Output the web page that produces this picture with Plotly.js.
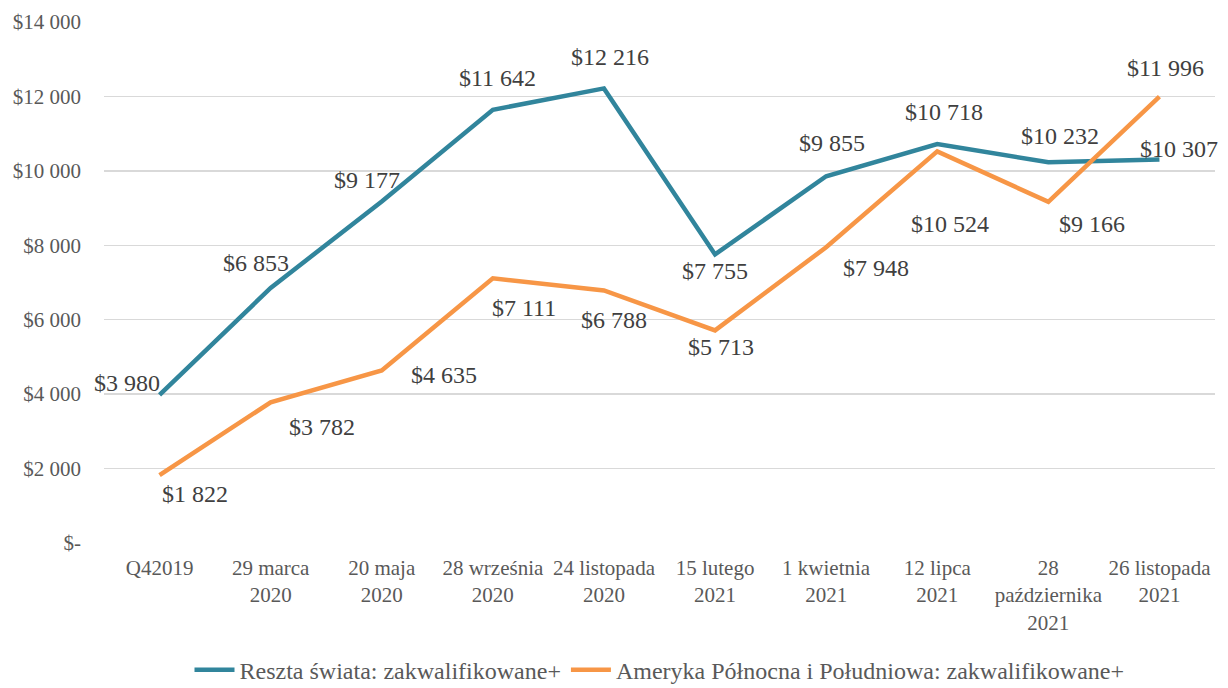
<!DOCTYPE html>
<html>
<head>
<meta charset="utf-8">
<script src="https://cdn.plot.ly/plotly-3.0.1.min.js"></script>
<style>html,body{margin:0;padding:0;background:#fff}#chart{width:1228px;height:688px}</style>
</head>
<body>
<div id="chart"></div>
<script>
const categories = ["Q42019", "29 marca<br>2020", "20 maja<br>2020", "28 września<br>2020", "24 listopada<br>2020", "15 lutego<br>2021", "1 kwietnia<br>2021", "12 lipca<br>2021", "28<br>października<br>2021", "26 listopada<br>2021"];
const restOfWorld = [3980, 6853, 9177, 11642, 12216, 7755, 9855, 10718, 10232, 10307];
const americas = [1822, 3782, 4635, 7111, 6788, 5713, 7948, 10524, 9166, 11996];
const seriesNames = ["Reszta świata: zakwalifikowane+", "Ameryka Północna i Południowa: zakwalifikowane+"];
const yTickVals = [0, 2000, 4000, 6000, 8000, 10000, 12000, 14000];
const yTickText = ["$-", "$2 000", "$4 000", "$6 000", "$8 000", "$10 000", "$12 000", "$14 000"];

// label offsets (pixels) relative to each point
const restShifts = [[-33, 12], [-15, 25], [-15, 21], [5, 32], [6, 31], [0, -17], [6, 33], [7, 32], [12, 26], [20, 10]];
const amerShifts = [[35, -19], [51, -25], [62, -4], [31, -30], [10, -30], [6, -17], [50, -21], [13, -73], [44, -22], [6, 29]];

const fmt = v => "$" + String(v).replace(/\B(?=(\d{3})+(?!\d))/g, " ");

const teal = "#31859C", orange = "#F79646";
const FONT = "Liberation Serif";

const traces = [
  {x: categories, y: restOfWorld, name: seriesNames[0], type: "scatter", mode: "lines",
   line: {color: teal, width: 4.5}},
  {x: categories, y: americas, name: seriesNames[1], type: "scatter", mode: "lines",
   line: {color: orange, width: 4.5}}
];

const annotations = [];
restOfWorld.forEach((v, i) => annotations.push({x: categories[i], y: v, xref: "x", yref: "y", text: fmt(v), showarrow: false,
  xshift: restShifts[i][0], yshift: restShifts[i][1], font: {family: FONT, size: 24, color: "#404040"}}));
americas.forEach((v, i) => annotations.push({x: categories[i], y: v, xref: "x", yref: "y", text: fmt(v), showarrow: false,
  xshift: amerShifts[i][0], yshift: amerShifts[i][1], font: {family: FONT, size: 24, color: "#404040"}}));

const layout = {
  width: 1228, height: 688,
  margin: {l: 104, r: 13, t: 22, b: 145, autoexpand: false},
  paper_bgcolor: "#fff", plot_bgcolor: "#fff",
  font: {family: FONT, color: "#595959", size: 21},
  showlegend: true,
  legend: {orientation: "h", x: 0.5, xanchor: "center", y: -0.244, yanchor: "middle",
    font: {family: FONT, size: 24, color: "#595959"}, itemwidth: 40},
  xaxis: {type: "category", range: [-0.5, 9.5], showgrid: false, zeroline: false, showline: false, automargin: false,
    ticks: "", tickfont: {family: FONT, size: 21, color: "#595959"}, ticklabelstandoff: 10},
  yaxis: {range: [0, 14000], tickvals: yTickVals, ticktext: yTickText, showgrid: true, automargin: false,
    gridcolor: "#D9D9D9", gridwidth: 1.5, zeroline: false, showline: false, ticks: "",
    tickfont: {family: FONT, size: 21, color: "#595959"}, ticklabelstandoff: 22},
  annotations: annotations
};

Plotly.newPlot("chart", traces, layout, {displayModeBar: false, staticPlot: true});
</script>
</body>
</html>
